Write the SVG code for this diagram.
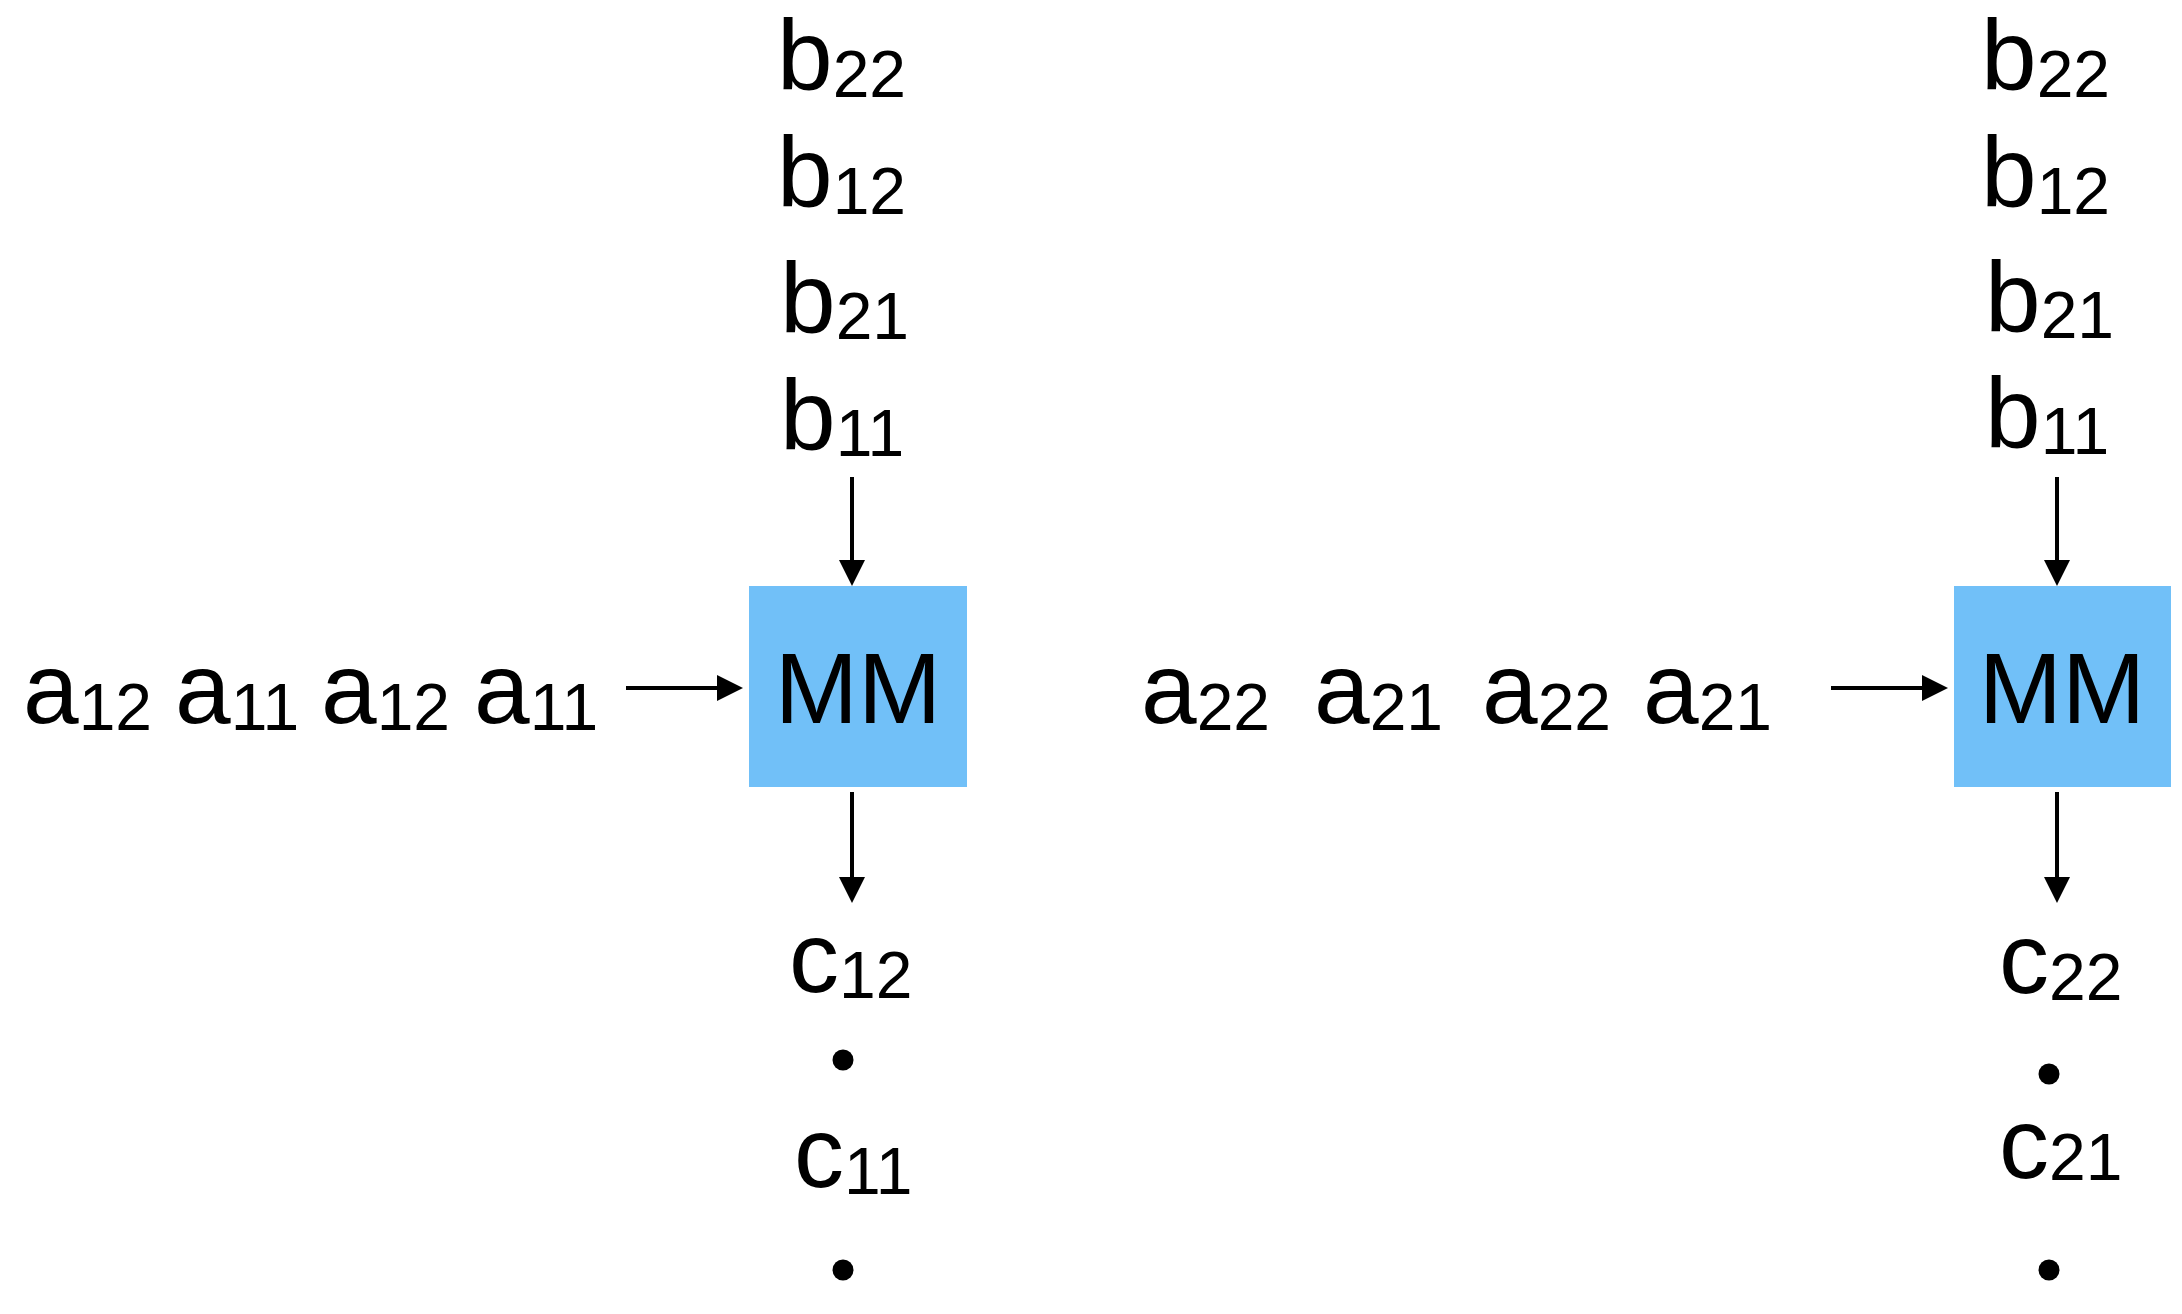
<svg xmlns="http://www.w3.org/2000/svg" width="2182" height="1314" viewBox="0 0 2182 1314">
<style>
text{font-family:"Liberation Sans",Arial,Helvetica,sans-serif;font-size:100px;fill:#000}
.s{font-size:66px}
.box{fill:#71C0F8}
.ln{stroke:#000;stroke-width:4;fill:none}
.dot{fill:#000}
</style>
<defs>
<marker id="ah" markerUnits="userSpaceOnUse" markerWidth="26" markerHeight="26" refX="16" refY="13" orient="auto">
<path d="M0,0 L26,13 L0,26 z" fill="#000"/>
</marker>
</defs>
<rect width="2182" height="1314" fill="#fff"/>
<g id="connectors">
<line class="ln" x1="852" y1="477" x2="852" y2="576" marker-end="url(#ah)"/>
<line class="ln" x1="626" y1="688" x2="733" y2="688" marker-end="url(#ah)"/>
<line class="ln" x1="852" y1="792" x2="852" y2="893" marker-end="url(#ah)"/>
<line class="ln" x1="2057" y1="477" x2="2057" y2="576" marker-end="url(#ah)"/>
<line class="ln" x1="1831" y1="688" x2="1938" y2="688" marker-end="url(#ah)"/>
<line class="ln" x1="2057" y1="792" x2="2057" y2="893" marker-end="url(#ah)"/>
</g>
<g id="mm1">
<rect class="box" x="749" y="586" width="218" height="201"/>
<text x="858" y="723" text-anchor="middle">MM</text>
</g>
<g id="mm2">
<rect class="box" x="1954" y="586" width="217" height="201"/>
<text x="2062" y="723" text-anchor="middle">MM</text>
</g>
<g id="b-left">
<text x="777" y="90">b<tspan class="s" dy="7">22</tspan></text>
<text x="777" y="207">b<tspan class="s" dy="7">12</tspan></text>
<text x="780" y="333">b<tspan class="s" dy="6">21</tspan></text>
<text x="780" y="450">b<tspan class="s" dy="6">11</tspan></text>
</g>
<g id="b-right">
<text x="1981" y="90">b<tspan class="s" dy="7">22</tspan></text>
<text x="1981" y="207">b<tspan class="s" dy="7">12</tspan></text>
<text x="1985" y="332">b<tspan class="s" dy="6">21</tspan></text>
<text x="1985" y="448">b<tspan class="s" dy="6">11</tspan></text>
</g>
<g id="a-left">
<text x="23" y="723">a<tspan class="s" dy="7">12</tspan></text>
<text x="175" y="723">a<tspan class="s" dy="7">11</tspan></text>
<text x="321" y="723">a<tspan class="s" dy="7">12</tspan></text>
<text x="474" y="723">a<tspan class="s" dy="7">11</tspan></text>
</g>
<g id="a-right">
<text x="1141" y="723">a<tspan class="s" dy="7">22</tspan></text>
<text x="1314" y="723">a<tspan class="s" dy="7">21</tspan></text>
<text x="1482" y="723">a<tspan class="s" dy="7">22</tspan></text>
<text x="1643" y="723">a<tspan class="s" dy="7">21</tspan></text>
</g>
<g id="c-left">
<text x="789" y="992">c<tspan class="s" dy="6">12</tspan></text>
<circle class="dot" cx="843" cy="1060" r="10.5"/>
<text x="794" y="1187">c<tspan class="s" dy="7">11</tspan></text>
<circle class="dot" cx="843" cy="1270" r="10.5"/>
</g>
<g id="c-right">
<text x="1999" y="993">c<tspan class="s" dy="7">22</tspan></text>
<circle class="dot" cx="2049" cy="1074" r="10.5"/>
<text x="1999" y="1178">c<tspan class="s" dy="2">21</tspan></text>
<circle class="dot" cx="2049" cy="1270" r="10.5"/>
</g>
</svg>
